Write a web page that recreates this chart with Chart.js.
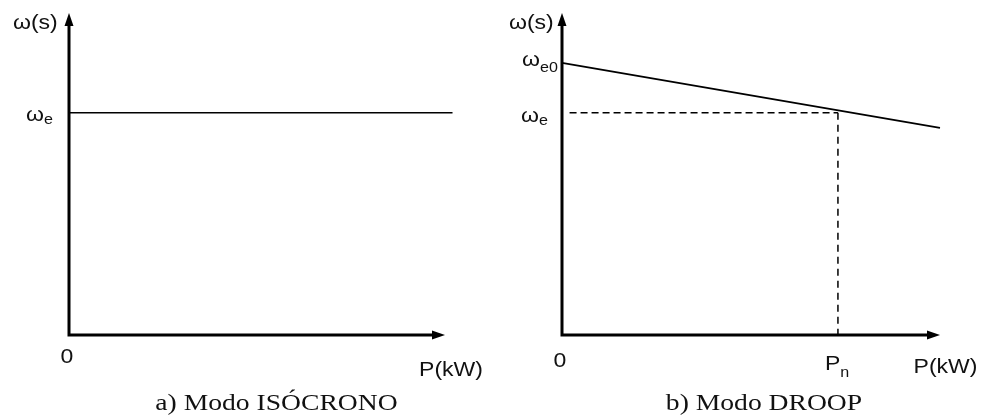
<!DOCTYPE html>
<html>
<head>
<meta charset="utf-8">
<script src="https://cdn.jsdelivr.net/npm/chart.js@4.4.1/dist/chart.umd.min.js"></script>
<style>
body { margin: 0; background: #fff; }
#wrap { position: relative; width: 986px; height: 418px; }
canvas { position: absolute; top: 0; }
</style>
</head>
<body>
<div id="wrap">
  <canvas id="canvas-iso" width="493" height="418" style="left:0px"></canvas>
  <canvas id="canvas-droop" width="493" height="418" style="left:493px"></canvas>
</div>
<script>
// axis ranges (per cent of full scale)
var axisP = [0, 100];
var axisW = [0, 100];

// a) isochronous: constant speed
var isoP = [0, 102];
var isoW = [69, 69];

// b) droop: speed falls with load
var droopP = [0, 100];
var droopW = [84.5, 64.3];
var ratedP = 73;
var omegaE = 69;
var dashStartP = 2;

var captions = ['a) Modo ISÓCRONO', 'b) Modo DROOP'];

var SANS = '"Liberation Sans", Arial, sans-serif';
var SERIF = '"Liberation Serif", "Times New Roman", serif';
var STRETCH = 1.15;

function toPoints(xs, ys){
    var pts = [];
    for (var i = 0; i < xs.length; i++){
        pts.push({x: xs[i], y: ys[i]});
    }
    return pts;
}

// text is a bit wider than normal in the picture
function drawText(ctx, text, x, y, font, align){
    ctx.save();
    ctx.font = font;
    ctx.fillStyle = '#111';
    ctx.textBaseline = 'alphabetic';
    var w = ctx.measureText(text).width * STRETCH;
    var left = x;
    if (align == 'center') left = x - w / 2;
    if (align == 'right') left = x - w;
    ctx.translate(left, y);
    ctx.scale(STRETCH, 1);
    ctx.fillText(text, 0, 0);
    ctx.restore();
    return w;
}

function drawSub(ctx, main, sub, x, y, subDrop){
    var w = drawText(ctx, main, x, y, '20px ' + SANS, 'left');
    drawText(ctx, sub, x + w, y + subDrop, '14px ' + SANS, 'left');
}

var axesPlugin = {
    id: 'arrowAxes',
    afterDatasetsDraw(chart, args, opts){
        var ctx = chart.ctx;
        var xs = chart.scales.x;
        var ys = chart.scales.y;
        var x0 = xs.getPixelForValue(axisP[0]);
        var x1 = xs.getPixelForValue(axisP[1]);
        var y0 = ys.getPixelForValue(axisW[0]);
        var y1 = ys.getPixelForValue(axisW[1]);
        ctx.save();
        ctx.strokeStyle = '#000';
        ctx.fillStyle = '#000';
        ctx.lineWidth = 3;
        ctx.beginPath();
        ctx.moveTo(x0, y1 + 10);
        ctx.lineTo(x0, y0);
        ctx.lineTo(x1 - 10, y0);
        ctx.stroke();
        // arrow heads
        ctx.beginPath();
        ctx.moveTo(x0, y1);
        ctx.lineTo(x0 - 4.5, y1 + 13);
        ctx.lineTo(x0 + 4.5, y1 + 13);
        ctx.closePath();
        ctx.fill();
        ctx.beginPath();
        ctx.moveTo(x1, y0);
        ctx.lineTo(x1 - 13, y0 - 4.5);
        ctx.lineTo(x1 - 13, y0 + 4.5);
        ctx.closePath();
        ctx.fill();
        ctx.restore();

        var l = opts.labels;
        drawText(ctx, 'ω(s)', l.wx, 29, '20px ' + SANS, 'left');
        drawText(ctx, '0', x0 - 2, l.zeroY, '20px ' + SANS, 'center');
        drawText(ctx, 'P(kW)', l.px, l.pY, '20px ' + SANS, 'center');
        drawText(ctx, captions[l.cap], l.capX, 410, '24px ' + SERIF, 'center');
        if (l.cap == 0){
            drawSub(ctx, 'ω', 'e', 26, ys.getPixelForValue(isoW[0]) + 8, 3);
        } else {
            drawSub(ctx, 'ω', 'e0', 29, ys.getPixelForValue(droopW[0]) + 3, 6);
            drawSub(ctx, 'ω', 'e', 28, ys.getPixelForValue(omegaE) + 9, 3);
            drawSub(ctx, 'P', 'n', xs.getPixelForValue(ratedP) - 13, 370, 7);
        }
    }
};

function createChart(id, datasets, pad, labels){
    var ctx = document.getElementById(id).getContext('2d');
    return new Chart(ctx, {
        type: 'line',
        data: { datasets: datasets },
        options: {
            responsive: false,
            animation: false,
            devicePixelRatio: 1,
            layout: { padding: pad },
            elements: { point: { radius: 0 }, line: { tension: 0 } },
            plugins: {
                legend: { display: false },
                tooltip: { enabled: false },
                arrowAxes: { labels: labels }
            },
            scales: {
                x: { type: 'linear', min: axisP[0], max: axisP[1], display: false },
                y: { type: 'linear', min: axisW[0], max: axisW[1], display: false }
            }
        },
        plugins: [axesPlugin]
    });
}

var chartIso = createChart('canvas-iso', [
    {
        data: toPoints(isoP, isoW),
        borderColor: '#000',
        borderWidth: 1.5,
        clip: false
    }
], {left: 69, right: 48, top: 13, bottom: 83},
   {wx: 13, zeroY: 363, px: 451, pY: 376, cap: 0, capX: 276.5});

var chartDroop = createChart('canvas-droop', [
    {
        data: toPoints(droopP, droopW),
        borderColor: '#000',
        borderWidth: 1.8,
        clip: false
    },
    {
        data: toPoints([dashStartP, ratedP], [omegaE, omegaE]),
        borderColor: '#000',
        borderWidth: 1.5,
        borderDash: [7, 4]
    },
    {
        data: toPoints([ratedP, ratedP], [omegaE, axisW[0]]),
        borderColor: '#000',
        borderWidth: 1.5,
        borderDash: [7, 5]
    }
], {left: 69, right: 46, top: 13, bottom: 83},
   {wx: 16, zeroY: 367, px: 452.5, pY: 373, cap: 1, capX: 271});
</script>
</body>
</html>
